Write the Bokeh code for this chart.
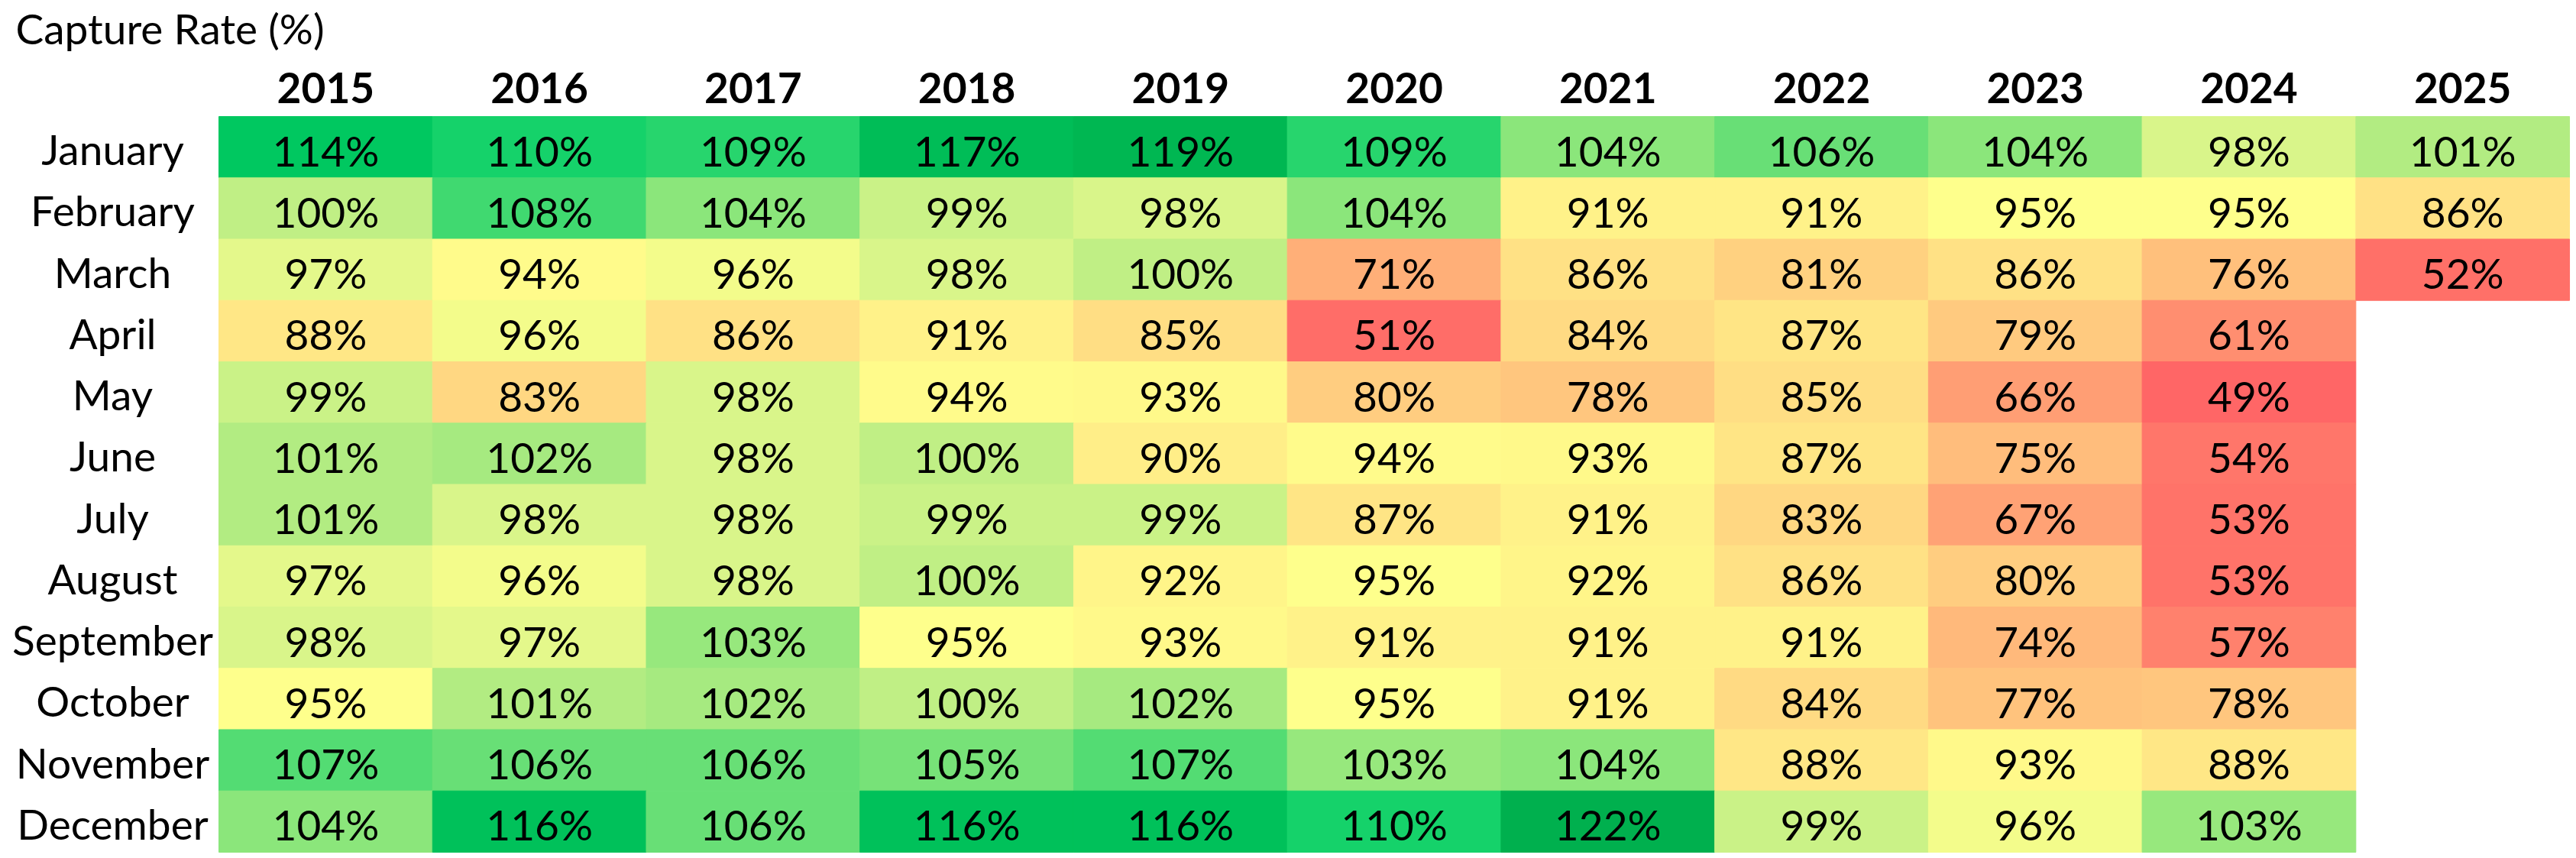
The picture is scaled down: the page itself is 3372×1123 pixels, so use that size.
from bokeh.plotting import figure
from bokeh.models import ColumnDataSource, LinearColorMapper, Range1d
from bokeh.core.properties import value
from bokeh.embed import file_html
from bokeh.resources import INLINE

title_text = "Capture Rate (%)"
years = ["2015", "2016", "2017", "2018", "2019", "2020", "2021", "2022", "2023", "2024", "2025"]
months = ["January", "February", "March", "April", "May", "June", "July",
          "August", "September", "October", "November", "December"]

january = [114, 110, 109, 117, 119, 109, 104, 106, 104, 98, 101]
february = [100, 108, 104, 99, 98, 104, 91, 91, 95, 95, 86]
march = [97, 94, 96, 98, 100, 71, 86, 81, 86, 76, 52]
april = [88, 96, 86, 91, 85, 51, 84, 87, 79, 61]
may = [99, 83, 98, 94, 93, 80, 78, 85, 66, 49]
june = [101, 102, 98, 100, 90, 94, 93, 87, 75, 54]
july = [101, 98, 98, 99, 99, 87, 91, 83, 67, 53]
august = [97, 96, 98, 100, 92, 95, 92, 86, 80, 53]
september = [98, 97, 103, 95, 93, 91, 91, 91, 74, 57]
october = [95, 101, 102, 100, 102, 95, 91, 84, 77, 78]
november = [107, 106, 106, 105, 107, 103, 104, 88, 93, 88]
december = [104, 116, 106, 116, 116, 110, 122, 99, 96, 103]

rates = [january, february, march, april, may, june, july, august,
         september, october, november, december]

# colour scale (style): anchor values and colours
LOW, HIGH = 49, 122
anchors = [
    (49, (255, 102, 102)),
    (95, (255, 255, 140)),
    (98, (216, 245, 138)),
    (101, (179, 236, 130)),
    (104, (139, 230, 123)),
    (107, (85, 220, 115)),
    (110, (20, 210, 106)),
    (114, (0, 200, 96)),
    (118, (0, 186, 84)),
    (122, (0, 176, 78)),
]


def build_palette(n=256):
    pal = []
    for k in range(n):
        v = LOW + (HIGH - LOW) * k / (n - 1)
        for (v0, c0), (v1, c1) in zip(anchors[:-1], anchors[1:]):
            if v0 <= v <= v1:
                t = (v - v0) / (v1 - v0)
                c = tuple(int(round(a + (b - a) * t)) for a, b in zip(c0, c1))
                break
        pal.append("#%02x%02x%02x" % c)
    return pal


mapper = LinearColorMapper(palette=build_palette(), low=LOW, high=HIGH)

xs, ys, ty, vals, labels = [], [], [], [], []
for i, row in enumerate(rates):
    for j, v in enumerate(row):
        xs.append(j + 0.5)
        ys.append(i + 0.5)
        ty.append(i + 0.5 + 0.05)
        vals.append(v)
        labels.append(f"{v}%")

cells = ColumnDataSource(dict(x=xs, y=ys, ty=ty, v=vals, label=labels))
heads = ColumnDataSource(dict(x=[j + 0.5 for j in range(len(years))],
                              y=[-0.461] * len(years), label=years))
rows = ColumnDataSource(dict(x=[-0.497] * len(months),
                             y=[i + 0.5 + 0.03 for i in range(len(months))],
                             label=months))
ttl = ColumnDataSource(dict(x=[-0.951], y=[-1.445], label=[title_text]))

FONT = value("Lato")
FS = value("55px")

p = figure(width=3372, height=1123, x_range=Range1d(-1.0225, 11.032), y_range=Range1d(12.1, -1.894),
           output_backend="svg", toolbar_location=None, min_border=0,
           x_axis_location=None, y_axis_location=None)
p.grid.visible = False
p.outline_line_color = None
p.background_fill_color = "white"
p.border_fill_color = "white"

p.rect(x="x", y="y", width=1, height=1, source=cells,
       fill_color={"field": "v", "transform": mapper},
       line_color={"field": "v", "transform": mapper}, line_width=1)
p.text(x="x", y="ty", text="label", source=cells, text_font=FONT, text_font_size=FS,
       text_align="center", text_baseline="middle", text_color="black")
p.text(x="x", y="y", text="label", source=heads, text_font=FONT, text_font_size=FS,
       text_font_style="bold", text_align="center", text_baseline="middle",
       text_color="black")
p.text(x="x", y="y", text="label", source=rows, text_font=FONT, text_font_size=FS,
       text_align="center", text_baseline="middle", text_color="black")
p.text(x="x", y="y", text="label", source=ttl, text_font=FONT, text_font_size=FS,
       text_align="left", text_baseline="middle", text_color="black")

open("out.html", "w").write(file_html(p, INLINE))
